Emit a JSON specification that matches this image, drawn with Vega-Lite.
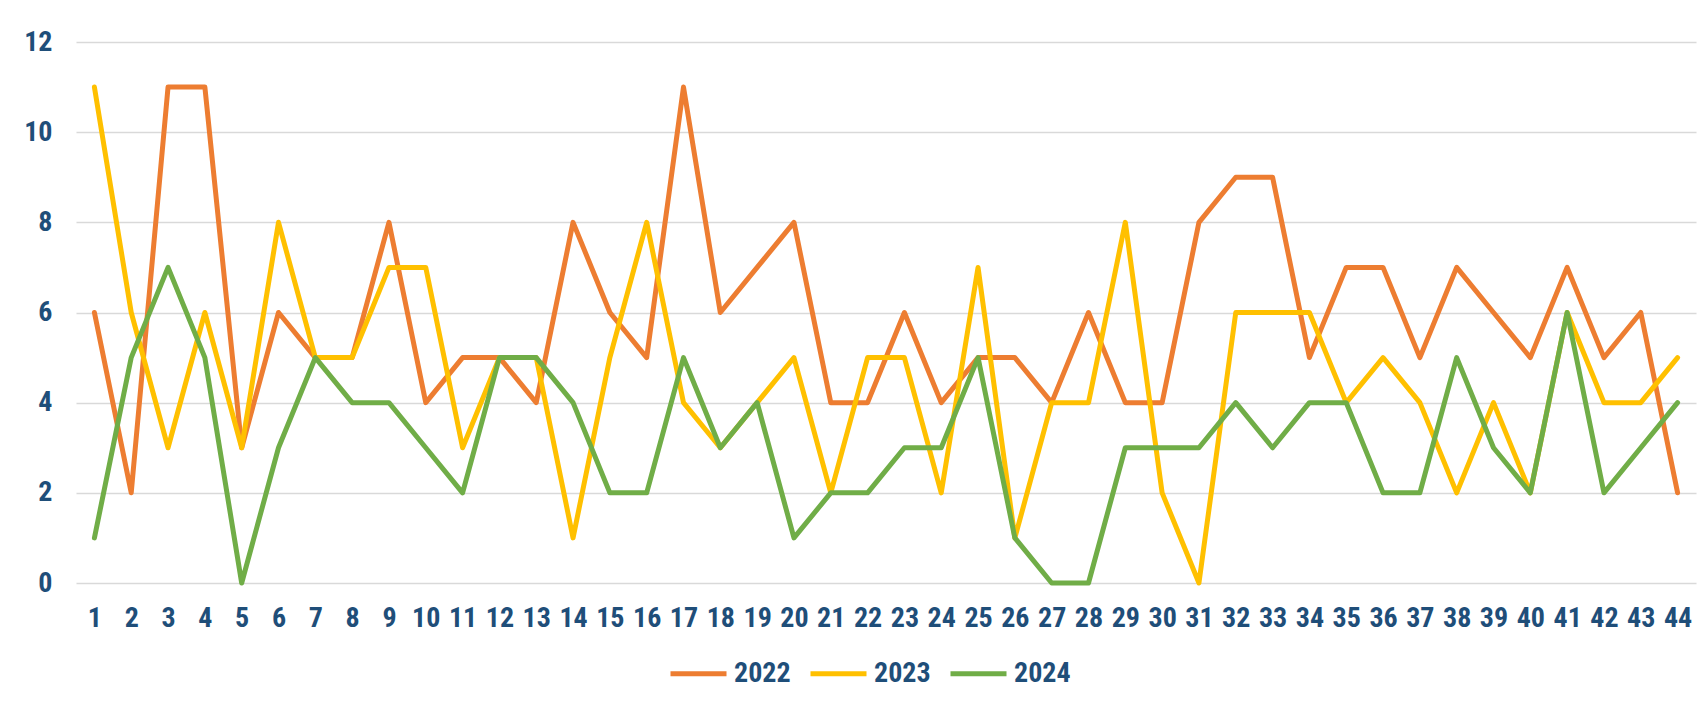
{
  "$schema": "https://vega.github.io/schema/vega-lite/v6.json",
  "width": 1620,
  "height": 541,
  "autosize": {"type": "none"},
  "padding": {"left": 76, "top": 42, "right": 5, "bottom": 127},
  "background": "white",
  "config": {
    "view": {"stroke": null},
    "font": "Roboto Condensed, Liberation Sans Narrow, Liberation Sans, Arial, sans-serif"
  },
  "data": {
    "values": [
      {"week":1,"year":"2022","value":6},{"week":2,"year":"2022","value":2},{"week":3,"year":"2022","value":11},{"week":4,"year":"2022","value":11},{"week":5,"year":"2022","value":3},{"week":6,"year":"2022","value":6},{"week":7,"year":"2022","value":5},{"week":8,"year":"2022","value":5},{"week":9,"year":"2022","value":8},{"week":10,"year":"2022","value":4},{"week":11,"year":"2022","value":5},{"week":12,"year":"2022","value":5},{"week":13,"year":"2022","value":4},{"week":14,"year":"2022","value":8},{"week":15,"year":"2022","value":6},{"week":16,"year":"2022","value":5},{"week":17,"year":"2022","value":11},{"week":18,"year":"2022","value":6},{"week":19,"year":"2022","value":7},{"week":20,"year":"2022","value":8},{"week":21,"year":"2022","value":4},{"week":22,"year":"2022","value":4},{"week":23,"year":"2022","value":6},{"week":24,"year":"2022","value":4},{"week":25,"year":"2022","value":5},{"week":26,"year":"2022","value":5},{"week":27,"year":"2022","value":4},{"week":28,"year":"2022","value":6},{"week":29,"year":"2022","value":4},{"week":30,"year":"2022","value":4},{"week":31,"year":"2022","value":8},{"week":32,"year":"2022","value":9},{"week":33,"year":"2022","value":9},{"week":34,"year":"2022","value":5},{"week":35,"year":"2022","value":7},{"week":36,"year":"2022","value":7},{"week":37,"year":"2022","value":5},{"week":38,"year":"2022","value":7},{"week":39,"year":"2022","value":6},{"week":40,"year":"2022","value":5},{"week":41,"year":"2022","value":7},{"week":42,"year":"2022","value":5},{"week":43,"year":"2022","value":6},{"week":44,"year":"2022","value":2},
      {"week":1,"year":"2023","value":11},{"week":2,"year":"2023","value":6},{"week":3,"year":"2023","value":3},{"week":4,"year":"2023","value":6},{"week":5,"year":"2023","value":3},{"week":6,"year":"2023","value":8},{"week":7,"year":"2023","value":5},{"week":8,"year":"2023","value":5},{"week":9,"year":"2023","value":7},{"week":10,"year":"2023","value":7},{"week":11,"year":"2023","value":3},{"week":12,"year":"2023","value":5},{"week":13,"year":"2023","value":5},{"week":14,"year":"2023","value":1},{"week":15,"year":"2023","value":5},{"week":16,"year":"2023","value":8},{"week":17,"year":"2023","value":4},{"week":18,"year":"2023","value":3},{"week":19,"year":"2023","value":4},{"week":20,"year":"2023","value":5},{"week":21,"year":"2023","value":2},{"week":22,"year":"2023","value":5},{"week":23,"year":"2023","value":5},{"week":24,"year":"2023","value":2},{"week":25,"year":"2023","value":7},{"week":26,"year":"2023","value":1},{"week":27,"year":"2023","value":4},{"week":28,"year":"2023","value":4},{"week":29,"year":"2023","value":8},{"week":30,"year":"2023","value":2},{"week":31,"year":"2023","value":0},{"week":32,"year":"2023","value":6},{"week":33,"year":"2023","value":6},{"week":34,"year":"2023","value":6},{"week":35,"year":"2023","value":4},{"week":36,"year":"2023","value":5},{"week":37,"year":"2023","value":4},{"week":38,"year":"2023","value":2},{"week":39,"year":"2023","value":4},{"week":40,"year":"2023","value":2},{"week":41,"year":"2023","value":6},{"week":42,"year":"2023","value":4},{"week":43,"year":"2023","value":4},{"week":44,"year":"2023","value":5},
      {"week":1,"year":"2024","value":1},{"week":2,"year":"2024","value":5},{"week":3,"year":"2024","value":7},{"week":4,"year":"2024","value":5},{"week":5,"year":"2024","value":0},{"week":6,"year":"2024","value":3},{"week":7,"year":"2024","value":5},{"week":8,"year":"2024","value":4},{"week":9,"year":"2024","value":4},{"week":10,"year":"2024","value":3},{"week":11,"year":"2024","value":2},{"week":12,"year":"2024","value":5},{"week":13,"year":"2024","value":5},{"week":14,"year":"2024","value":4},{"week":15,"year":"2024","value":2},{"week":16,"year":"2024","value":2},{"week":17,"year":"2024","value":5},{"week":18,"year":"2024","value":3},{"week":19,"year":"2024","value":4},{"week":20,"year":"2024","value":1},{"week":21,"year":"2024","value":2},{"week":22,"year":"2024","value":2},{"week":23,"year":"2024","value":3},{"week":24,"year":"2024","value":3},{"week":25,"year":"2024","value":5},{"week":26,"year":"2024","value":1},{"week":27,"year":"2024","value":0},{"week":28,"year":"2024","value":0},{"week":29,"year":"2024","value":3},{"week":30,"year":"2024","value":3},{"week":31,"year":"2024","value":3},{"week":32,"year":"2024","value":4},{"week":33,"year":"2024","value":3},{"week":34,"year":"2024","value":4},{"week":35,"year":"2024","value":4},{"week":36,"year":"2024","value":2},{"week":37,"year":"2024","value":2},{"week":38,"year":"2024","value":5},{"week":39,"year":"2024","value":3},{"week":40,"year":"2024","value":2},{"week":41,"year":"2024","value":6},{"week":42,"year":"2024","value":2},{"week":43,"year":"2024","value":3},{"week":44,"year":"2024","value":4}
    ]
  },
  "mark": {"type": "line", "strokeWidth": 5, "strokeCap": "round", "strokeJoin": "round"},
  "encoding": {
    "x": {
      "field": "week",
      "type": "ordinal",
      "scale": {"type": "point", "padding": 0.5},
      "axis": {
        "title": null,
        "labelAngle": 0,
        "ticks": false,
        "domain": false,
        "grid": false,
        "labelFontSize": 28,
        "labelFontWeight": "bold",
        "labelColor": "#1F4E79",
        "labelPadding": 21,
        "labelOverlap": false
      }
    },
    "y": {
      "field": "value",
      "type": "quantitative",
      "scale": {"domain": [0, 12], "nice": false, "zero": true},
      "axis": {
        "title": null,
        "values": [0, 2, 4, 6, 8, 10, 12],
        "ticks": false,
        "domain": false,
        "grid": true,
        "gridColor": "#D9D9D9",
        "gridWidth": 1.5,
        "labelFontSize": 28,
        "labelFontWeight": "bold",
        "labelColor": "#1F4E79",
        "labelPadding": 24
      }
    },
    "color": {
      "field": "year",
      "type": "nominal",
      "scale": {"domain": ["2022", "2023", "2024"], "range": ["#ED7D31", "#FFC000", "#70AD47"]},
      "legend": {
        "title": null,
        "orient": "none",
        "direction": "horizontal",
        "legendX": 592,
        "legendY": 601,
        "symbolType": "stroke",
        "symbolSize": 3136,
        "symbolStrokeWidth": 5,
        "labelFontSize": 28,
        "labelFontWeight": "bold",
        "labelColor": "#1F4E79",
        "labelOffset": 5,
        "columnPadding": 9,
        "padding": 0
      }
    }
  }
}
